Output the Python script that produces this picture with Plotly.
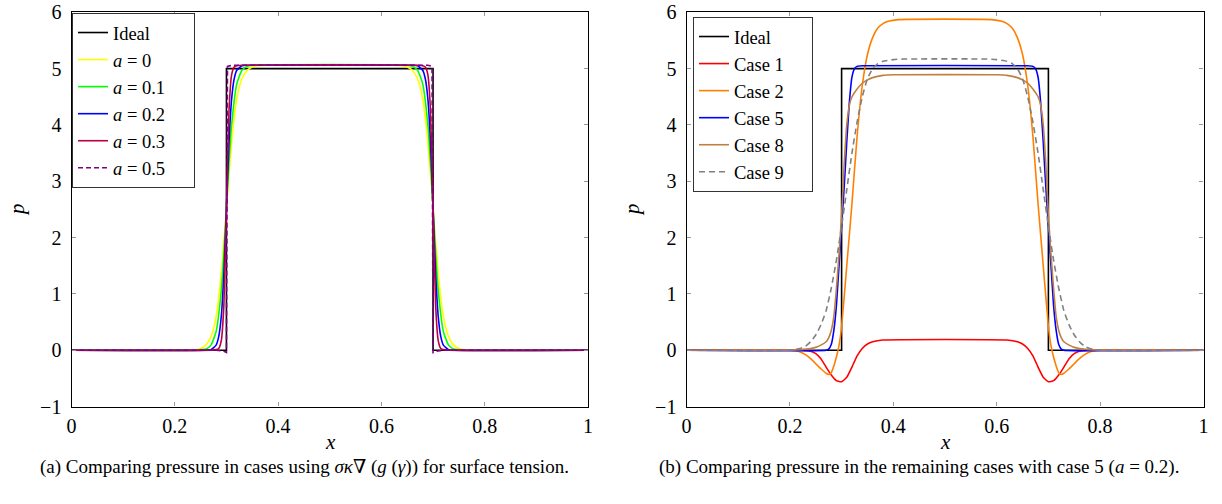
import plotly.graph_objects as go

# ---------------- data ----------------
X_TICKS = [0, 0.2, 0.4, 0.6, 0.8, 1]
X_TICK_TEXT = ["0", "0.2", "0.4", "0.6", "0.8", "1"]
Y_TICKS = [-1, 0, 1, 2, 3, 4, 5, 6]
Y_TICK_TEXT = ["\u22121", "0", "1", "2", "3", "4", "5", "6"]

IDEAL_X = [0, 0.3, 0.3, 0.7, 0.7, 1]
IDEAL_P = [0, 0, 5, 5, 0, 0]

# (a) left panel
A0_X = [0, 0.22, 0.24, 0.25, 0.26, 0.27, 0.28, 0.29, 0.30, 0.31, 0.32, 0.33, 0.34, 0.35, 0.36, 0.38,
        0.62, 0.64, 0.65, 0.66, 0.67, 0.68, 0.69, 0.70, 0.71, 0.72, 0.73, 0.74, 0.75, 0.76, 0.78, 1]
A0_P = [0, 0, 0.01, 0.03, 0.09, 0.24, 0.60, 1.36, 2.53, 3.70, 4.46, 4.82, 4.97, 5.03, 5.05, 5.06,
        5.06, 5.05, 5.03, 4.97, 4.82, 4.46, 3.70, 2.53, 1.36, 0.60, 0.24, 0.09, 0.03, 0.01, 0, 0]

A1_X = [0, 0.24, 0.25, 0.26, 0.27, 0.28, 0.29, 0.295, 0.30, 0.305, 0.31, 0.32, 0.33, 0.34, 0.35,
        0.65, 0.66, 0.67, 0.68, 0.69, 0.695, 0.70, 0.705, 0.71, 0.72, 0.73, 0.74, 0.75, 0.76, 1]
A1_P = [0, 0, 0.01, 0.02, 0.09, 0.33, 1.06, 1.72, 2.53, 3.34, 4.00, 4.73, 4.97, 5.04, 5.06,
        5.06, 5.04, 4.97, 4.73, 4.00, 3.34, 2.53, 1.72, 1.06, 0.33, 0.09, 0.02, 0.01, 0, 0]

A2_X = [0, 0.26, 0.27, 0.28, 0.285, 0.29, 0.295, 0.30, 0.305, 0.31, 0.315, 0.32, 0.33, 0.34,
        0.66, 0.67, 0.68, 0.685, 0.69, 0.695, 0.70, 0.705, 0.71, 0.715, 0.72, 0.73, 0.74, 1]
A2_P = [0, 0, 0.01, 0.09, 0.24, 0.60, 1.36, 2.53, 3.70, 4.46, 4.82, 4.97, 5.05, 5.06,
        5.06, 5.05, 4.97, 4.82, 4.46, 3.70, 2.53, 1.36, 0.60, 0.24, 0.09, 0.01, 0, 0]

A3_X = [0, 0.27, 0.28, 0.285, 0.29, 0.295, 0.30, 0.305, 0.31, 0.315, 0.32, 0.33,
        0.67, 0.68, 0.685, 0.69, 0.695, 0.70, 0.705, 0.71, 0.715, 0.72, 0.73, 1]
A3_P = [0, 0, 0.01, 0.03, 0.17, 0.80, 2.53, 4.26, 4.89, 5.03, 5.05, 5.06,
        5.06, 5.05, 5.03, 4.89, 4.26, 2.53, 0.80, 0.17, 0.03, 0.01, 0, 0]

A5_X = [0, 0.28, 0.295, 0.300, 0.302, 0.31, 0.69, 0.698, 0.700, 0.705, 0.72, 1]
A5_P = [0, 0, -0.02, -0.04, 5.04, 5.06, 5.06, 5.04, -0.04, -0.02, 0, 0]

# (b) right panel
C1_X = [0, 0.22, 0.24, 0.25, 0.26, 0.27, 0.28, 0.29, 0.30, 0.31, 0.32, 0.33, 0.34, 0.35, 0.36, 0.38,
        0.62, 0.64, 0.65, 0.66, 0.67, 0.68, 0.69, 0.70, 0.71, 0.72, 0.73, 0.74, 0.75, 0.76, 0.78, 1]
C1_P = [0, 0, -0.02, -0.06, -0.15, -0.30, -0.44, -0.54, -0.56, -0.48, -0.30, -0.10, 0.03, 0.11, 0.15, 0.18,
        0.18, 0.15, 0.11, 0.03, -0.10, -0.30, -0.48, -0.56, -0.54, -0.44, -0.30, -0.15, -0.06, -0.02, 0, 0]

C2_X = [0, 0.20, 0.21, 0.22, 0.23, 0.24, 0.25, 0.26, 0.27, 0.275, 0.28, 0.285, 0.29, 0.295, 0.30,
        0.31, 0.32, 0.33, 0.34, 0.35, 0.36, 0.37, 0.38, 0.39, 0.41,
        0.59, 0.61, 0.62, 0.63, 0.64, 0.65, 0.66, 0.67, 0.68, 0.69,
        0.70, 0.705, 0.71, 0.715, 0.72, 0.725, 0.73, 0.74, 0.75, 0.76, 0.77, 0.78, 0.79, 0.80, 1]
C2_P = [0, 0, -0.01, -0.03, -0.08, -0.15, -0.24, -0.33, -0.41, -0.43, -0.40, -0.28, -0.12, 0.08, 0.42,
        1.50, 2.60, 3.80, 4.70, 5.25, 5.55, 5.72, 5.80, 5.84, 5.87,
        5.87, 5.84, 5.80, 5.72, 5.55, 5.25, 4.70, 3.80, 2.60, 1.50,
        0.42, 0.08, -0.12, -0.28, -0.40, -0.43, -0.41, -0.33, -0.24, -0.15, -0.08, -0.03, -0.01, 0, 0]

C5_X = [0, 0.27, 0.275, 0.28, 0.285, 0.29, 0.295, 0.30, 0.305, 0.31, 0.315, 0.32, 0.325, 0.33, 0.34,
        0.66, 0.67, 0.675, 0.68, 0.685, 0.69, 0.695, 0.70, 0.705, 0.71, 0.715, 0.72, 0.725, 0.73, 1]
C5_P = [0, 0, 0.02, 0.10, 0.35, 0.80, 1.50, 2.20, 2.90, 3.70, 4.40, 4.85, 5.00, 5.04, 5.05,
        5.05, 5.04, 5.00, 4.85, 4.40, 3.70, 2.90, 2.20, 1.50, 0.80, 0.35, 0.10, 0.02, 0, 0]

C8_X = [0, 0.20, 0.22, 0.24, 0.25, 0.26, 0.27, 0.275, 0.28, 0.285, 0.29, 0.295, 0.30, 0.305, 0.31,
        0.315, 0.32, 0.33, 0.34, 0.35, 0.36, 0.38, 0.40,
        0.60, 0.62, 0.64, 0.65, 0.66, 0.67, 0.68, 0.685, 0.69, 0.695, 0.70, 0.705, 0.71, 0.715,
        0.72, 0.725, 0.73, 0.74, 0.75, 0.76, 0.78, 0.80, 1]
C8_P = [0, 0, 0.01, 0.03, 0.05, 0.09, 0.15, 0.22, 0.35, 0.60, 1.10, 1.70, 2.40, 3.30, 4.00,
        4.35, 4.50, 4.64, 4.74, 4.80, 4.84, 4.88, 4.89,
        4.89, 4.88, 4.84, 4.80, 4.74, 4.64, 4.50, 4.35, 4.00, 3.30, 2.40, 1.70, 1.10, 0.60,
        0.35, 0.22, 0.15, 0.09, 0.05, 0.03, 0.01, 0, 0]

C9_X = [0, 0.20, 0.21, 0.22, 0.23, 0.24, 0.25, 0.26, 0.27, 0.28, 0.29, 0.30, 0.31, 0.32, 0.33, 0.34,
        0.35, 0.36, 0.37, 0.38, 0.40, 0.42,
        0.58, 0.60, 0.62, 0.63, 0.64, 0.65, 0.66, 0.67, 0.68, 0.69, 0.70, 0.71, 0.72, 0.73, 0.74,
        0.75, 0.76, 0.77, 0.78, 0.79, 0.80, 1]
C9_P = [0, 0, 0.01, 0.03, 0.07, 0.15, 0.27, 0.45, 0.70, 1.10, 1.60, 2.20, 2.85, 3.50, 4.05, 4.50,
        4.82, 5.00, 5.09, 5.13, 5.16, 5.17,
        5.17, 5.16, 5.13, 5.09, 5.00, 4.82, 4.50, 4.05, 3.50, 2.85, 2.20, 1.60, 1.10, 0.70, 0.45,
        0.27, 0.15, 0.07, 0.03, 0.01, 0, 0]

LEFT_NAMES = ["Ideal", "<i>a</i> = 0", "<i>a</i> = 0.1", "<i>a</i> = 0.2", "<i>a</i> = 0.3", "<i>a</i> = 0.5"]
RIGHT_NAMES = ["Ideal", "Case 1", "Case 2", "Case 5", "Case 8", "Case 9"]

CAPTION_A = "(a) Comparing pressure in cases using <i>\u03c3\u03ba</i>\u2207 (<i>g</i> (<i>\u03b3</i>)) for surface tension."
CAPTION_B = "(b) Comparing pressure in the remaining cases with case 5 (<i>a</i> = 0.2)."

# ---------------- figure ----------------
SERIF = "'Liberation Serif', 'Times New Roman', Tinos, 'DejaVu Serif', serif"
W, H = 1222, 504
LW = 1.6
PAD = "\u00a0" * 5  # invisible padding so the legend boxes are as wide as the reference

fig = go.Figure()

left_series = [
    (IDEAL_X, IDEAL_P, "black", None, "linear"),
    (A0_X, A0_P, "#FFFF00", None, "spline"),
    (A1_X, A1_P, "#00FF00", None, "spline"),
    (A2_X, A2_P, "#0000FF", None, "spline"),
    (A3_X, A3_P, "#BF0040", None, "spline"),
    (A5_X, A5_P, "#800080", "5px,3px", "linear"),
]
right_series = [
    (IDEAL_X, IDEAL_P, "black", None, "linear"),
    (C1_X, C1_P, "#FF0000", None, "spline"),
    (C2_X, C2_P, "#FF8000", None, "spline"),
    (C5_X, C5_P, "#0000FF", None, "spline"),
    (C8_X, C8_P, "#BF8040", None, "spline"),
    (C9_X, C9_P, "#808080", "6px,4px", "spline"),
]

for (xs, ps, col, dash, shape), name in zip(left_series, LEFT_NAMES):
    fig.add_trace(go.Scatter(
        x=xs, y=ps, mode="lines", name=name + PAD, xaxis="x", yaxis="y",
        line=dict(color=col, width=LW, dash=dash, shape=shape, smoothing=0.5),
        legend="legend"))

for (xs, ps, col, dash, shape), name in zip(right_series, RIGHT_NAMES):
    fig.add_trace(go.Scatter(
        x=xs, y=ps, mode="lines", name=name + PAD, xaxis="x2", yaxis="y2",
        line=dict(color=col, width=LW, dash=dash, shape=shape, smoothing=0.5),
        legend="legend2"))

y_dom = [1 - 406.5 / H, 1 - 12.3 / H]
axis_common = dict(
    showgrid=False, zeroline=False, showline=True, linecolor="black", linewidth=1.2,
    mirror="ticks", ticks="inside", ticklen=4, tickwidth=1, tickcolor="#999999",
    tickfont=dict(family=SERIF, size=20, color="black"), automargin=False,
)

legend_common = dict(
    xanchor="left", yanchor="top",
    bgcolor="white", bordercolor="#333333", borderwidth=1,
    font=dict(family=SERIF, size=18.5, color="black"),
    itemclick=False, itemdoubleclick=False,
)

fig.update_layout(
    width=W, height=H,
    margin=dict(l=0, r=0, t=0, b=0),
    paper_bgcolor="white", plot_bgcolor="white",
    showlegend=True,
    font=dict(family=SERIF),
    xaxis=dict(domain=[71.5 / W, 588 / W], range=[0, 1], anchor="y",
               tickvals=X_TICKS, ticktext=X_TICK_TEXT, ticklabelstandoff=1, **axis_common),
    yaxis=dict(domain=y_dom, range=[-1, 6], anchor="x",
               tickvals=Y_TICKS, ticktext=Y_TICK_TEXT, ticklabelstandoff=5, **axis_common),
    xaxis2=dict(domain=[686.5 / W, 1203.5 / W], range=[0, 1], anchor="y2",
                tickvals=X_TICKS, ticktext=X_TICK_TEXT, ticklabelstandoff=1, **axis_common),
    yaxis2=dict(domain=y_dom, range=[-1, 6], anchor="x2",
                tickvals=Y_TICKS, ticktext=Y_TICK_TEXT, ticklabelstandoff=5, **axis_common),
    legend=dict(x=72 / W, y=1 - 13 / H, **legend_common),
    legend2=dict(x=693 / W, y=1 - 17 / H, **legend_common),
)

annots = [
    dict(text="<i>x</i>", x=330 / W, y=1 - 442 / H),
    dict(text="<i>x</i>", x=945 / W, y=1 - 442 / H),
    dict(text="<i>p</i>", x=17 / W, y=1 - 210 / H, textangle=-90),
    dict(text="<i>p</i>", x=632 / W, y=1 - 210 / H, textangle=-90),
]
for a in annots:
    fig.add_annotation(xref="paper", yref="paper", showarrow=False,
                       xanchor="center", yanchor="middle",
                       font=dict(family=SERIF, size=21, color="black"), **a)

fig.add_annotation(text=CAPTION_A, x=304 / W, y=1 - 467 / H, xref="paper", yref="paper",
                   showarrow=False, xanchor="center", yanchor="middle",
                   font=dict(family=SERIF, size=19, color="black"))
fig.add_annotation(text=CAPTION_B, x=919 / W, y=1 - 467 / H, xref="paper", yref="paper",
                   showarrow=False, xanchor="center", yanchor="middle",
                   font=dict(family=SERIF, size=19, color="black"))

fig.write_html("out.html")
